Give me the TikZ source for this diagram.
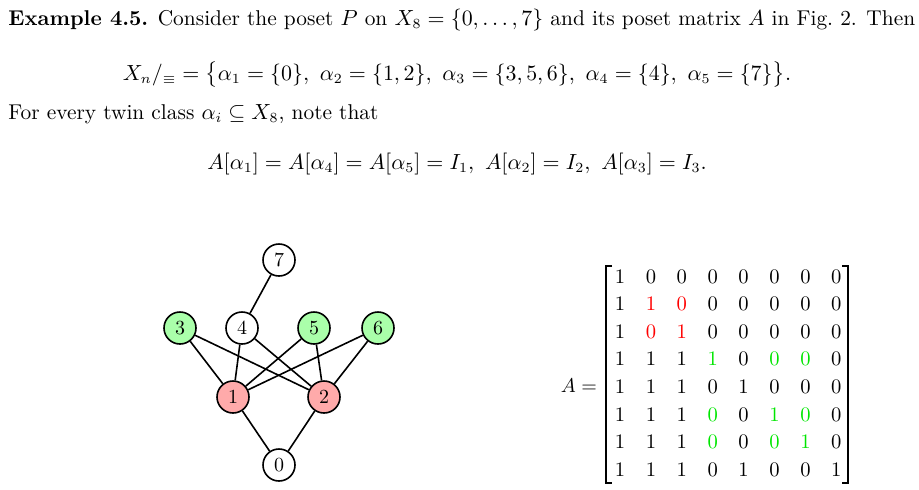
\documentclass[tikz,border=0pt]{standalone}
\usepackage{amsmath,amssymb}
\begin{document}
\begin{tikzpicture}[x=0.5pt,y=-0.5pt,
  v/.style={circle,draw,thick,minimum size=16pt,inner sep=0pt,font=\fontsize{10}{12}\selectfont},
  gr/.style={v,fill={rgb,255:red,170;green,255;blue,170}},
  rd/.style={v,fill={rgb,255:red,255;green,170;blue,170}},
  e/.style={thick},
  m/.style={font=\fontsize{10.3}{12}\selectfont,anchor=base},
  t/.style={font=\fontsize{10.7}{13}\selectfont,inner sep=0pt}]
\useasboundingbox (0,0) rectangle (919,489);
\definecolor{r}{RGB}{255,0,0}\definecolor{g}{RGB}{0,230,0}\definecolor{k}{RGB}{0,0,0}
\node[t,anchor=base west] (l1) at (8,25) {\textbf{Example 4.5.} Consider the poset $P$ on $X_8=\{0,\dots,7\}$ and its poset matrix $A$ in Fig.~2. Then};
\node[t,anchor=base] (l2) at (457,80) {$X_n/_{\equiv}=\bigl\{\alpha_1=\{0\},\ \alpha_2=\{1,2\},\ \alpha_3=\{3,5,6\},\ \alpha_4=\{4\},\ \alpha_5=\{7\}\bigr\}.$};
\node[t,anchor=base west] (l3) at (8,119) {For every twin class $\alpha_i\subseteq X_8$, note that};
\node[t,anchor=base] (l4) at (457,169) {$A[\alpha_1]=A[\alpha_4]=A[\alpha_5]=I_1,\ A[\alpha_2]=I_2,\ A[\alpha_3]=I_3.$};
\node[v] (n7) at (279,260) {7};
\node[gr] (n3) at (180,328) {3};
\node[v] (n4) at (242,328) {4};
\node[gr] (n5) at (314,328) {5};
\node[gr] (n6) at (378,328) {6};
\node[rd] (n1) at (233,397) {1};
\node[rd] (n2) at (324,397) {2};
\node[v] (n0) at (279,465) {0};
\foreach \a/\b in {7/4,3/1,3/2,4/1,4/2,5/1,5/2,6/1,6/2,1/0,2/0}
  \draw[e] (n\a) -- (n\b);
\node[m,anchor=east] (Aeq) at (604,386) {$A=$};
\foreach \r [count=\i] in {
 {k/1,k/0,k/0,k/0,k/0,k/0,k/0,k/0},
 {k/1,r/1,r/0,k/0,k/0,k/0,k/0,k/0},
 {k/1,r/0,r/1,k/0,k/0,k/0,k/0,k/0},
 {k/1,k/1,k/1,g/1,k/0,g/0,g/0,k/0},
 {k/1,k/1,k/1,k/0,k/1,k/0,k/0,k/0},
 {k/1,k/1,k/1,g/0,k/0,g/1,g/0,k/0},
 {k/1,k/1,k/1,g/0,k/0,g/0,g/1,k/0},
 {k/1,k/1,k/1,k/0,k/1,k/0,k/0,k/1}}{
  \foreach \cl/\vl [count=\j] in \r {
    \pgfmathsetmacro{\xx}{620+(\j-1)*30.9}
    \pgfmathsetmacro{\yy}{283+(\i-1)*27.6}
    \node[m,text=\cl] (c\i\j) at (\xx,\yy) {\vl};
  }}
\draw[thick] (612,266) -- (606,266) -- (606,483) -- (612,483);
\draw[thick] (842,266) -- (848,266) -- (848,483) -- (842,483);
\end{tikzpicture}
\end{document}
